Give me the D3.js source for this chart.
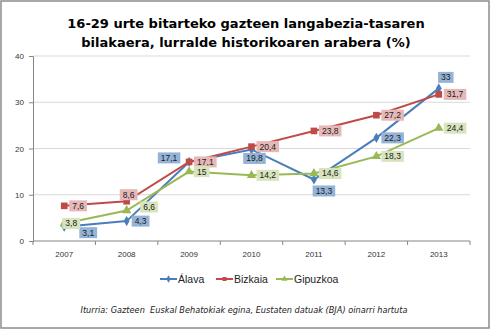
<!DOCTYPE html>
<html>
<head>
<meta charset="utf-8">
<script src="https://cdn.jsdelivr.net/npm/d3@7"></script>
<style>
  body { margin: 0; background: #fff; }
  svg { display: block; }
</style>
</head>
<body>
<div id="chart"></div>
<script>
const years = ['2007', '2008', '2009', '2010', '2011', '2012', '2013']
const alava = [3.1, 4.3, 17.1, 19.8, 13.3, 22.3, 33]
const bizkaia = [7.6, 8.6, 17.1, 20.4, 23.8, 27.2, 31.7]
const gipuzkoa = [3.8, 6.6, 15, 14.2, 14.6, 18.3, 24.4]
const yTicks = [0, 10, 20, 30, 40]
const titleLines = ['16-29 urte bitarteko gazteen langabezia-tasaren', 'bilakaera, lurralde historikoaren arabera (%)']
const source = 'Iturria: Gazteen  Euskal Behatokiak egina, Eustaten datuak (BJA) oinarri hartuta'

// where each data label sits relative to its point
const alavaPlace = ['rb', 'r', 'la', 'b', 'bb', 'r', 'a']
const bizkaiaPlace = ['r', 'a2', 'r', 'r', 'r', 'r', 'r']
const gipuzkoaPlace = ['r0', 'rr', 'r', 'r', 'r', 'r', 'r']

const placeOffset = {
    r: w => [5 + w / 2, 0],
    r0: w => [7, 0],
    rb: w => [24, 6],
    rr: w => [22.5, -3.5],
    la: w => [-20, -4],
    b: w => [3, 9],
    bb: w => [10, 11.5],
    a: w => [7, -11],
    a2: w => [2, -6.5],
}

const series = [
    { name: 'Álava', values: alava, place: alavaPlace, color: '#4A7EBB', fill: '#95B3D7', marker: d3.symbolDiamond },
    { name: 'Bizkaia', values: bizkaia, place: bizkaiaPlace, color: '#BE4B48', fill: '#E6B9B8', marker: d3.symbolSquare },
    { name: 'Gipuzkoa', values: gipuzkoa, place: gipuzkoaPlace, color: '#98B954', fill: '#D7E4BD', marker: d3.symbolTriangle },
]

const width = 492
const height = 331
const plot = { left: 33, right: 470, top: 56, bottom: 241 }

const svg = d3.select('#chart')
    .append('svg')
    .attr('width', width)
    .attr('height', height)

svg.append('rect')
    .attr('x', 1)
    .attr('y', 1)
    .attr('width', 488)
    .attr('height', 327)
    .attr('fill', '#fff')
    .attr('stroke', '#8c8c8c')
    .attr('stroke-width', 1.5)

svg.append('text')
    .attr('x', 246)
    .attr('text-anchor', 'middle')
    .style('font-family', 'Verdana, "DejaVu Sans", sans-serif')
    .style('font-weight', 'bold')
    .style('font-size', '13px')
    .attr('fill', '#000')
    .selectAll('tspan')
    .data(titleLines)
    .join('tspan')
    .attr('x', 246)
    .attr('y', (d, i) => 28 + i * 19)
    .text(d => d)

const xScale = d3.scaleBand()
    .domain(years)
    .range([plot.left, plot.right])
    .padding(0)

const yScale = d3.scaleLinear()
    .domain([0, 40])
    .range([plot.bottom, plot.top])

const xc = d => xScale(d) + xScale.bandwidth() / 2

// gridlines
svg.append('g')
    .selectAll('line')
    .data(yTicks.filter(d => d > 0))
    .join('line')
    .attr('x1', plot.left)
    .attr('x2', plot.right)
    .attr('y1', d => yScale(d))
    .attr('y2', d => yScale(d))
    .attr('stroke', '#d9d9d9')
    .attr('stroke-width', 1)

const yAxis = d3.axisLeft(yScale)
    .tickValues(yTicks)
    .tickSize(4)
    .tickPadding(5)

const yAxisGroup = svg.append('g')
    .attr('transform', `translate(${plot.left},0)`)
    .call(yAxis)
yAxisGroup.select('.domain').attr('stroke', '#868686')
yAxisGroup.selectAll('.tick line').attr('stroke', '#868686')
yAxisGroup.selectAll('.tick text')
    .style('font-family', '"Liberation Sans", Arial, sans-serif')
    .style('font-size', '8px')
    .attr('fill', '#333')

const xAxisGroup = svg.append('g')
    .attr('transform', `translate(0,${plot.bottom})`)
xAxisGroup.append('line')
    .attr('x1', plot.left)
    .attr('x2', plot.right)
    .attr('stroke', '#868686')
xAxisGroup.selectAll('.edge')
    .data(years.concat(['end']))
    .join('line')
    .attr('class', 'edge')
    .attr('x1', (d, i) => i < years.length ? xScale(d) : plot.right)
    .attr('x2', (d, i) => i < years.length ? xScale(d) : plot.right)
    .attr('y1', 0)
    .attr('y2', 4)
    .attr('stroke', '#868686')
xAxisGroup.selectAll('.lab')
    .data(years)
    .join('text')
    .attr('class', 'lab')
    .attr('x', d => xc(d))
    .attr('y', 16)
    .attr('text-anchor', 'middle')
    .style('font-family', '"Liberation Sans", Arial, sans-serif')
    .style('font-size', '8px')
    .attr('fill', '#333')
    .text(d => d)

const line = d3.line()
    .x((d, i) => xc(years[i]))
    .y(d => yScale(d))

const markerSize = new Map([[d3.symbolDiamond, 30], [d3.symbolSquare, 44], [d3.symbolTriangle, 38]])

const fmt = v => String(v).replace('.', ',')

const lineLayer = svg.append('g')
const labelLayer = svg.append('g')

series.forEach(s => {
    lineLayer.append('path')
        .datum(s.values)
        .attr('d', line)
        .attr('fill', 'none')
        .attr('stroke', s.color)
        .attr('stroke-width', 2)
    lineLayer.selectAll(null)
        .data(s.values)
        .join('path')
        .attr('transform', (d, i) => `translate(${xc(years[i])},${yScale(d)})`)
        .attr('d', d3.symbol().type(s.marker).size(markerSize.get(s.marker))())
        .attr('fill', s.color)
})

series.forEach(s => {
    s.values.forEach((v, i) => {
        const px = xc(years[i])
        const py = yScale(v)
        const g = labelLayer.append('g')
        const t = g.append('text')
            .attr('text-anchor', 'middle')
            .attr('dy', '0.35em')
            .style('font-family', '"Liberation Sans", Arial, sans-serif')
            .style('font-size', '8.5px')
            .attr('fill', '#1a1a1a')
            .text(fmt(v))
        const w = t.node().getComputedTextLength() + 6
        const h = 11
        const [dx, dy] = placeOffset[s.place[i]](w)
        const cx = px + dx
        const cy = py + dy
        g.insert('rect', 'text')
            .attr('x', cx - w / 2)
            .attr('y', cy - h / 2)
            .attr('width', w)
            .attr('height', h)
            .attr('fill', s.fill)
        t.attr('x', cx).attr('y', cy)
    })
})

// legend
const legend = svg.append('g')
    .attr('transform', 'translate(0,283)')
const legendX = [160, 216, 276]
series.forEach((s, i) => {
    const lg = legend.append('g').attr('transform', `translate(${legendX[i]},0)`)
    lg.append('line')
        .attr('x1', 0)
        .attr('x2', 17)
        .attr('y1', -4)
        .attr('y2', -4)
        .attr('stroke', s.color)
        .attr('stroke-width', 2)
    lg.append('path')
        .attr('transform', 'translate(8.5,-4)')
        .attr('d', d3.symbol().type(s.marker).size(16)())
        .attr('fill', s.color)
    lg.append('text')
        .attr('x', 18)
        .attr('y', 0)
        .style('font-family', '"Liberation Sans", Arial, sans-serif')
        .style('font-size', '10.5px')
        .attr('fill', '#222')
        .text(s.name)
})

svg.append('text')
    .attr('x', 244)
    .attr('y', 313)
    .attr('text-anchor', 'middle')
    .style('font-family', 'Verdana, "DejaVu Sans", sans-serif')
    .style('font-style', 'italic')
    .style('font-size', '8.2px')
    .style('white-space', 'pre')
    .attr('fill', '#222')
    .text(source)
</script>
</body>
</html>
